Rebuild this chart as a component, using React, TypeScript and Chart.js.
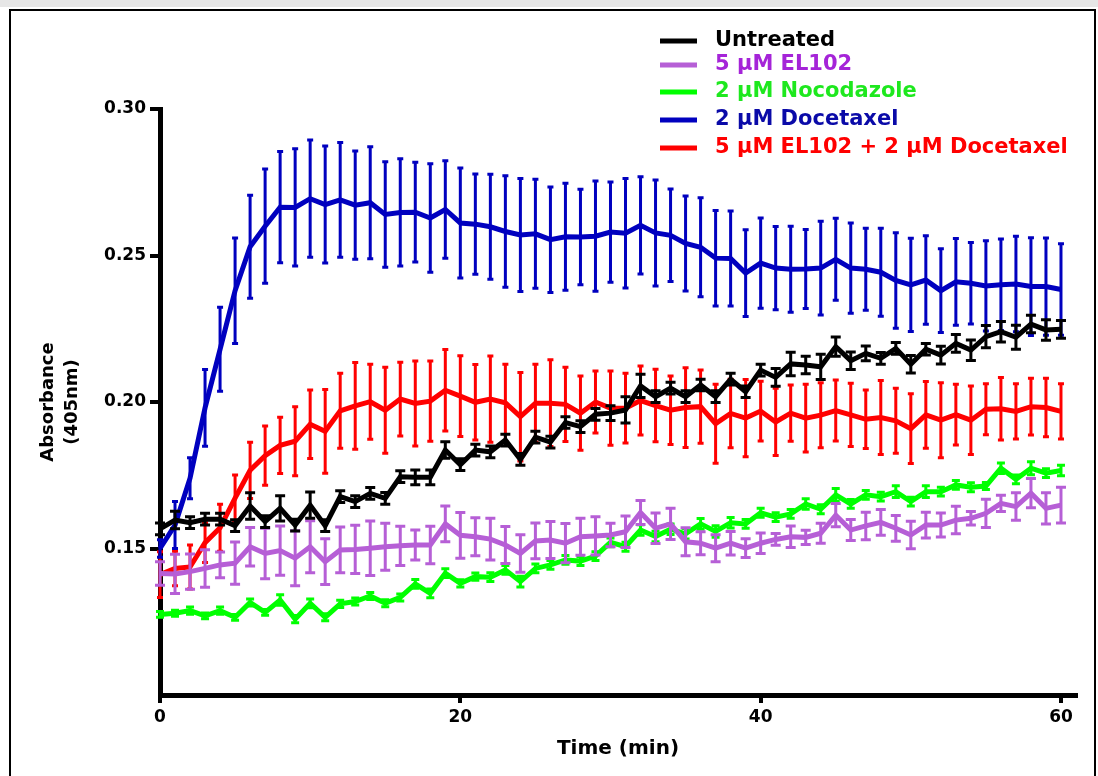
import React, { useEffect, useRef } from "react";
import { Chart, registerables } from "chart.js";

Chart.register(...registerables);

// ---------------- DATA ----------------
const TIME = [
  0, 1, 2, 3, 4, 5, 6, 7, 8, 9, 10, 11, 12, 13, 14, 15, 16, 17, 18, 19, 20,
  21, 22, 23, 24, 25, 26, 27, 28, 29, 30, 31, 32, 33, 34, 35, 36, 37, 38, 39, 40,
  41, 42, 43, 44, 45, 46, 47, 48, 49, 50, 51, 52, 53, 54, 55, 56, 57, 58, 59, 60,
];

const X_TICKS = [0, 20, 40, 60];
const Y_TICKS = [0.15, 0.2, 0.25, 0.3];

const SERIES_LABELS = [
  "Untreated",
  "5 \u00B5M EL102",
  "2 \u00B5M Nocodazole",
  "2 \u00B5M Docetaxel",
  "5 \u00B5M EL102 + 2 \u00B5M Docetaxel",
];

const UNTREATED = [
  0.1567, 0.1597, 0.1588, 0.16, 0.16, 0.1578, 0.1645, 0.1592, 0.1637, 0.158, 0.1648,
  0.1578, 0.1677, 0.166, 0.1688, 0.1671, 0.1745, 0.1743, 0.1743, 0.1836, 0.1786,
  0.1836, 0.183, 0.187, 0.1804, 0.188, 0.1863, 0.193, 0.1916, 0.1958, 0.1962,
  0.1973, 0.2055, 0.2018, 0.2047, 0.2018, 0.2058, 0.2018, 0.2078, 0.2035, 0.2109,
  0.2084, 0.213, 0.2126, 0.212, 0.2189, 0.2141, 0.2166, 0.2149, 0.2183, 0.2129,
  0.218, 0.216, 0.22, 0.2177, 0.2223, 0.224, 0.2221, 0.2266, 0.2246, 0.2248,
];
const UNTREATED_SEM = [
  0.002, 0.003, 0.002, 0.002, 0.002, 0.002, 0.0045, 0.002, 0.0043, 0.002, 0.0045,
  0.002, 0.002, 0.002, 0.002, 0.002, 0.002, 0.0025, 0.0025, 0.0028, 0.002,
  0.002, 0.002, 0.002, 0.002, 0.002, 0.002, 0.002, 0.002, 0.002, 0.0025,
  0.0045, 0.004, 0.002, 0.002, 0.002, 0.002, 0.002, 0.002, 0.002, 0.002,
  0.003, 0.004, 0.003, 0.0043, 0.0033, 0.003, 0.0025, 0.002, 0.002, 0.003,
  0.002, 0.003, 0.003, 0.0035, 0.0038, 0.0035, 0.0041, 0.003, 0.0035, 0.003,
];

const EL102 = [
  0.1415, 0.1413, 0.1421, 0.1432, 0.1444, 0.145, 0.1506, 0.1483, 0.1493, 0.1467, 0.1506,
  0.1455, 0.1495, 0.1497, 0.1501, 0.1506, 0.1509, 0.1512, 0.1512, 0.1584, 0.1545,
  0.154, 0.1532, 0.1512, 0.1483, 0.1526, 0.1529, 0.1518, 0.154, 0.1543, 0.1546,
  0.1557, 0.1623, 0.1569, 0.1584, 0.1523, 0.1518, 0.1501, 0.1518, 0.1501, 0.1518,
  0.1531, 0.154, 0.1538, 0.1552, 0.1614, 0.1563, 0.1577, 0.1589, 0.1569, 0.1546,
  0.158, 0.158, 0.1597, 0.1603, 0.162, 0.1654, 0.1643, 0.1689, 0.1637, 0.1648,
];
const EL102_SEM = [
  0.004, 0.0067, 0.006, 0.0064, 0.0044, 0.0072, 0.0066, 0.0086, 0.0084, 0.0094, 0.0089,
  0.0078, 0.0078, 0.0082, 0.0093, 0.008, 0.0067, 0.0051, 0.0064, 0.0061, 0.0078,
  0.0065, 0.0071, 0.0063, 0.0064, 0.0061, 0.0063, 0.0067, 0.0063, 0.0065, 0.004,
  0.0054, 0.0041, 0.0052, 0.0053, 0.0048, 0.0039, 0.0046, 0.004, 0.0032, 0.0035,
  0.002, 0.0037, 0.0024, 0.0034, 0.004, 0.0036, 0.0047, 0.0044, 0.0044, 0.0047,
  0.0044, 0.0041, 0.0047, 0.0023, 0.0048, 0.0028, 0.0047, 0.005, 0.0053, 0.0061,
];

const NOCODAZOLE = [
  0.1275, 0.1279, 0.1288, 0.127, 0.1288, 0.1265, 0.1316, 0.1282, 0.1324, 0.1259, 0.1313,
  0.1265, 0.1311, 0.1319, 0.1338, 0.1313, 0.1333, 0.1379, 0.1347, 0.1416, 0.1381,
  0.1404, 0.1402, 0.1427, 0.1387, 0.1432, 0.1444, 0.1461, 0.1457, 0.1474, 0.1521,
  0.1506, 0.1563, 0.1541, 0.1566, 0.155, 0.1584, 0.1558, 0.1588, 0.1584, 0.1622,
  0.1607, 0.1618, 0.1652, 0.1634, 0.1683, 0.1652, 0.1683, 0.1677, 0.1694, 0.166,
  0.1694, 0.1694, 0.1717, 0.1709, 0.1713, 0.1774, 0.1736, 0.1774, 0.1757, 0.1766,
];
const NOCODAZOLE_SEM = [
  0.001, 0.001, 0.0012, 0.001, 0.0012, 0.001, 0.0012, 0.001, 0.0018, 0.0012, 0.0015,
  0.0012, 0.0012, 0.0012, 0.0012, 0.0012, 0.0012, 0.0015, 0.0015, 0.0015, 0.0012,
  0.0012, 0.0015, 0.0015, 0.0018, 0.0015, 0.0015, 0.0015, 0.0015, 0.0015, 0.0015,
  0.0015, 0.0018, 0.0018, 0.0018, 0.0018, 0.0018, 0.002, 0.0018, 0.0015, 0.0015,
  0.0015, 0.0015, 0.0018, 0.0015, 0.0022, 0.0015, 0.0015, 0.0015, 0.002, 0.0015,
  0.002, 0.0015, 0.0015, 0.0015, 0.0012, 0.0018, 0.0015, 0.0022, 0.0015, 0.0018,
];

const DOCETAXEL = [
  0.15, 0.158, 0.174, 0.198, 0.218, 0.238, 0.253, 0.26, 0.2665, 0.2664, 0.2694,
  0.2674, 0.269, 0.2672, 0.268, 0.264, 0.2647, 0.2648, 0.2628, 0.2657, 0.2611,
  0.2607, 0.2598, 0.2582, 0.257, 0.2574, 0.2554, 0.2564, 0.2563, 0.2566, 0.258,
  0.2576, 0.2603, 0.2577, 0.2569, 0.2541, 0.2528, 0.2491, 0.249, 0.244, 0.2474,
  0.2457, 0.2453, 0.2454, 0.2457, 0.2487, 0.2457, 0.2453, 0.2443, 0.2415, 0.24,
  0.2416, 0.238, 0.241, 0.2405, 0.2396, 0.24, 0.2403, 0.2394, 0.2394, 0.2384,
];
const DOCETAXEL_SEM = [
  0.003, 0.008, 0.007, 0.0131, 0.0143, 0.018, 0.0176, 0.0195, 0.019, 0.02, 0.02,
  0.02, 0.0196, 0.0185, 0.0191, 0.018, 0.0183, 0.017, 0.0185, 0.0166, 0.0188,
  0.0171, 0.0179, 0.019, 0.0193, 0.0186, 0.018, 0.0183, 0.0163, 0.0188, 0.0171,
  0.0187, 0.0166, 0.0181, 0.0158, 0.0162, 0.0169, 0.0163, 0.0162, 0.0148, 0.0154,
  0.0142, 0.0147, 0.0135, 0.016, 0.014, 0.0154, 0.014, 0.015, 0.0163, 0.0159,
  0.0151, 0.0143, 0.0148, 0.0139, 0.0154, 0.0156, 0.0163, 0.0167, 0.0166, 0.0156,
];

const COMBO = [
  0.1411, 0.1432, 0.1437, 0.152, 0.1571, 0.1672, 0.1767, 0.1817, 0.1852, 0.1866, 0.1924,
  0.19, 0.197, 0.1987, 0.2001, 0.1972, 0.201, 0.1995, 0.2003, 0.204, 0.202,
  0.1999, 0.201, 0.1997, 0.195, 0.1996, 0.1996, 0.1992, 0.1962, 0.2, 0.1979,
  0.1979, 0.2005, 0.1988, 0.1972, 0.1981, 0.1984, 0.1926, 0.1961, 0.1945, 0.1969,
  0.1932, 0.1962, 0.1945, 0.1955, 0.1971, 0.1956, 0.1941, 0.1947, 0.1936, 0.1909,
  0.1956, 0.1938, 0.1957, 0.1938, 0.1975, 0.1977, 0.1968, 0.1984, 0.1981, 0.1968,
];
const COMBO_SEM = [
  0.0078, 0.0059, 0.0075, 0.0068, 0.008, 0.0079, 0.0096, 0.0101, 0.0096, 0.0118, 0.0117,
  0.0143, 0.0128, 0.0148, 0.0128, 0.0147, 0.0126, 0.0145, 0.0137, 0.0139, 0.0138,
  0.0129, 0.0147, 0.0132, 0.0151, 0.0133, 0.0148, 0.0127, 0.0127, 0.0106, 0.0127,
  0.0119, 0.0118, 0.0124, 0.0117, 0.0136, 0.0125, 0.0135, 0.0117, 0.0132, 0.0102,
  0.0115, 0.0096, 0.0116, 0.0111, 0.0104, 0.0108, 0.01, 0.0126, 0.0111, 0.0119,
  0.0114, 0.0128, 0.0104, 0.0117, 0.0087, 0.0107, 0.0094, 0.0097, 0.01, 0.0094,
];

const LINE_COLORS = ["#000000", "#b65fd6", "#00ff00", "#0000bf", "#ff0000"];
const TEXT_COLORS = ["#000000", "#a524d8", "#1ee81e", "#0a0aa8", "#ff0000"];
const CAP_HALF = [5, 5, 4, 3, 3];

const FONT = "'DejaVu Sans', 'Verdana', sans-serif";

// ---------------- PLUGINS ----------------
const errorBarPlugin = {
  id: "errorBars",
  afterDatasetDraw(chart: any, args: any) {
    const ds = chart.data.datasets[args.index];
    const errs: number[] | undefined = ds.errors;
    if (!errs) return;
    const xs = chart.scales.x;
    const ys = chart.scales.y;
    const ctx = chart.ctx;
    ctx.save();
    ctx.strokeStyle = ds.borderColor;
    ctx.lineWidth = 3;
    ctx.lineCap = "butt";
    const cap = ds.capHalf || 4;
    ds.data.forEach((p: any, i: number) => {
      const e = errs[i];
      const px = xs.getPixelForValue(p.x);
      const top = ys.getPixelForValue(p.y + e);
      const bot = ys.getPixelForValue(p.y - e);
      ctx.beginPath();
      ctx.moveTo(px, top);
      ctx.lineTo(px, bot);
      ctx.moveTo(px - cap, top);
      ctx.lineTo(px + cap, top);
      ctx.moveTo(px - cap, bot);
      ctx.lineTo(px + cap, bot);
      ctx.stroke();
    });
    ctx.restore();
  },
};

const legendPlugin = {
  id: "customLegend",
  afterDraw(chart: any, _args: any, opts: any) {
    const ctx = chart.ctx;
    ctx.save();
    ctx.font = `bold ${opts.fontSize}px ${FONT}`;
    ctx.textBaseline = "middle";
    ctx.textAlign = "left";
    chart.data.datasets.forEach((ds: any, i: number) => {
      const y = opts.rows[i];
      ctx.strokeStyle = ds.borderColor;
      ctx.lineWidth = 5;
      ctx.beginPath();
      ctx.moveTo(opts.lineX0, y);
      ctx.lineTo(opts.lineX1, y);
      ctx.stroke();
      ctx.fillStyle = ds.textColor;
      ctx.fillText(ds.label, opts.textX, y);
    });
    ctx.restore();
  },
};

function makeDataset(label: string, values: number[], sems: number[], idx: number) {
  return {
    label,
    data: values.map((v, i) => ({ x: TIME[i], y: v })),
    errors: sems,
    capHalf: CAP_HALF[idx],
    textColor: TEXT_COLORS[idx],
    borderColor: LINE_COLORS[idx],
    backgroundColor: LINE_COLORS[idx],
    borderWidth: 5,
    pointRadius: 0,
    tension: 0,
    clip: false as any,
    borderJoinStyle: "miter" as const,
  };
}

export default function App() {
  const canvasRef = useRef<HTMLCanvasElement | null>(null);

  useEffect(() => {
    if (!canvasRef.current) return;
    const chart = new Chart(canvasRef.current, {
      type: "line",
      data: {
        datasets: [
          makeDataset(SERIES_LABELS[0], UNTREATED, UNTREATED_SEM, 0),
          makeDataset(SERIES_LABELS[1], EL102, EL102_SEM, 1),
          makeDataset(SERIES_LABELS[2], NOCODAZOLE, NOCODAZOLE_SEM, 2),
          makeDataset(SERIES_LABELS[3], DOCETAXEL, DOCETAXEL_SEM, 3),
          makeDataset(SERIES_LABELS[4], COMBO, COMBO_SEM, 4),
        ] as any,
      },
      options: {
        animation: false,
        responsive: false,
        maintainAspectRatio: false,
        devicePixelRatio: 1,
        layout: { padding: { left: 20, top: 109, right: 22, bottom: 10 } },
        plugins: {
          legend: { display: false },
          tooltip: { enabled: false },
          customLegend: {
            fontSize: 21,
            rows: [41, 65, 92, 120, 148],
            lineX0: 660,
            lineX1: 697,
            textX: 715,
          },
        } as any,
        scales: {
          x: {
            type: "linear",
            min: 0,
            max: 61,
            afterFit: (s: any) => {
              s.height = 71;
            },
            afterBuildTicks: (s: any) => {
              s.ticks = X_TICKS.map((v) => ({ value: v }));
            },
            grid: {
              display: true,
              drawOnChartArea: false,
              drawTicks: true,
              tickLength: 8,
              lineWidth: 4,
              color: "#000",
            },
            border: { display: true, width: 5, color: "#000" },
            ticks: {
              padding: 4,
              color: "#000",
              font: { family: FONT, size: 17, weight: "bold" },
              maxRotation: 0,
              callback: (v: any) => String(v),
            },
            title: {
              display: true,
              text: "Time (min)",
              color: "#000",
              font: { family: FONT, size: 20, weight: "bold", lineHeight: 1.2 },
              padding: { top: 0, bottom: 5 },
            },
          },
          y: {
            type: "linear",
            min: 0.1,
            max: 0.3,
            afterFit: (s: any) => {
              s.width = 140;
            },
            afterBuildTicks: (s: any) => {
              s.ticks = Y_TICKS.map((v) => ({ value: v }));
            },
            grid: {
              display: true,
              drawOnChartArea: false,
              drawTicks: true,
              tickLength: 10,
              lineWidth: 4,
              color: "#000",
            },
            border: { display: true, width: 5, color: "#000" },
            ticks: {
              padding: 4,
              color: "#000",
              font: { family: FONT, size: 17, weight: "bold" },
              callback: (v: any) => Number(v).toFixed(2),
            },
            title: {
              display: true,
              text: ["Absorbance", "(405nm)"],
              color: "#000",
              font: { family: FONT, size: 18, weight: "bold", lineHeight: 1.3333 },
              padding: { top: 16, bottom: 0 },
            },
          },
        },
      },
      plugins: [errorBarPlugin, legendPlugin],
    });
    return () => chart.destroy();
  }, []);

  return (
    <div
      style={{
        position: "fixed",
        left: 0,
        top: 0,
        width: 1098,
        height: 776,
        background: "#ffffff",
        overflow: "hidden",
      }}
    >
      <canvas
        ref={canvasRef}
        width={1098}
        height={776}
        style={{ display: "block", position: "absolute", left: 0, top: 0 }}
      />
      <div
        style={{
          position: "absolute",
          left: 0,
          top: 0,
          width: 1098,
          height: 7,
          background: "#e6e6e6",
          pointerEvents: "none",
        }}
      />
      <div
        style={{
          position: "absolute",
          left: 9,
          top: 9,
          width: 1087,
          height: 820,
          border: "2px solid #000",
          boxSizing: "border-box",
          pointerEvents: "none",
        }}
      />
    </div>
  );
}
